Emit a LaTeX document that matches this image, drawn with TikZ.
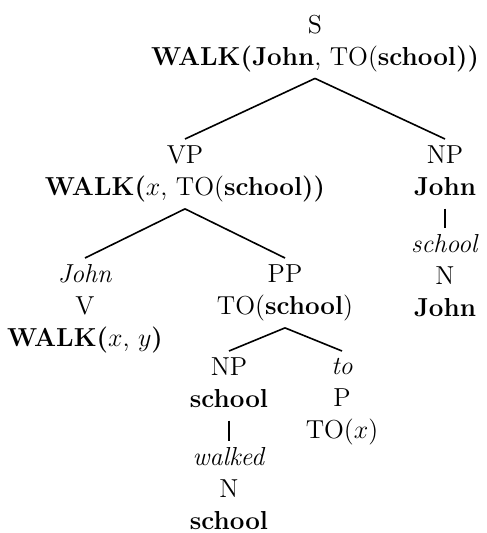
\documentclass[tikz,border=0pt]{standalone}
\usepackage{fix-cm}

\begin{document}
\begin{tikzpicture}[x=0.5pt,y=-0.5pt,
   tn/.style={anchor=north,align=center,inner sep=3pt,font=\fontsize{13}{16}\selectfont},
   stem/.style={shorten <=3pt},
   line width=0.8pt]
 \useasboundingbox (0,0) rectangle (486,533);

 \node[tn] (s) at (315,8) {S\\ \textbf{WALK(John}, TO(\textbf{school))}};
 \node[tn] (vp) at (185,139) {VP\\ \textbf{WALK(}$x$, TO(\textbf{school))}};
 \node[tn] (np1) at (445,139) {NP\\ \textbf{John}};
 \node[tn] (w1) at (445,228) {\textit{school}\\ N\\ \textbf{John}};
 \node[tn] (w2) at (85,258) {\textit{John}\\ V\\ \textbf{WALK(}$x$, $y$\textbf{)}};
 \node[tn] (pp) at (285,258) {PP\\ TO(\textbf{school})};
 \node[tn] (np2) at (229,351) {NP\\ \textbf{school}};
 \node[tn] (w3) at (229,441) {\textit{walked}\\ N\\ \textbf{school}};
 \node[tn] (w4) at (342,351) {\textit{to}\\ P\\ TO($x$)};

 \draw (s.south) -- (vp.north);
 \draw (s.south) -- (np1.north);
 \draw (vp.south) -- (w2.north);
 \draw (vp.south) -- (pp.north);
 \draw (pp.south) -- (np2.north);
 \draw (pp.south) -- (w4.north);
 \draw[stem] (np1.south) -- (w1.north);
 \draw[stem] (np2.south) -- (w3.north);
\end{tikzpicture}
\end{document}
